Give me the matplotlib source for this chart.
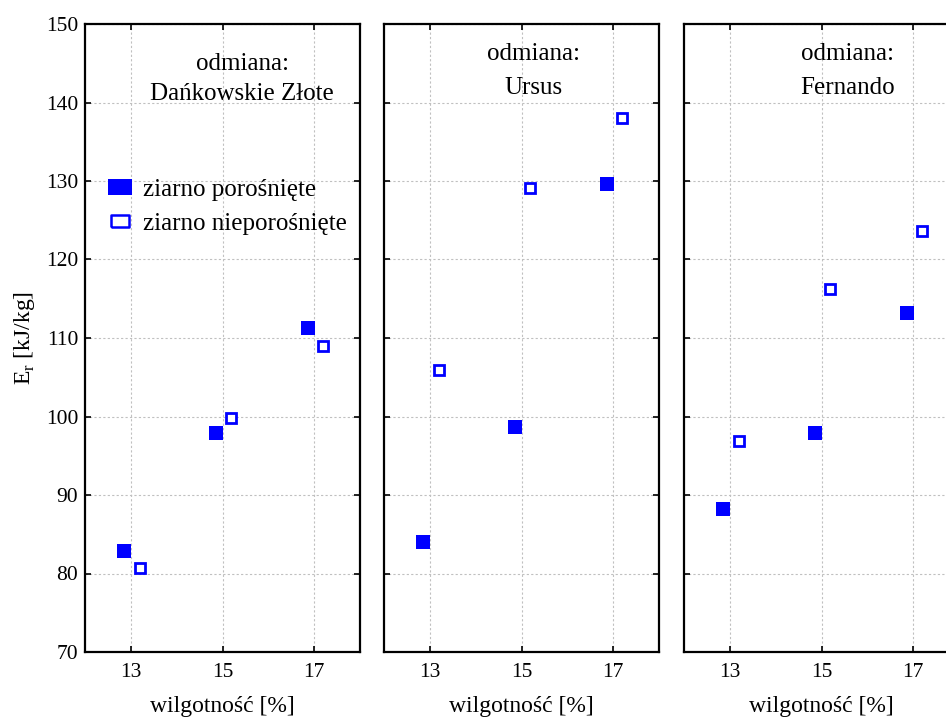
import matplotlib
matplotlib.use('Agg')
import numpy as np
import matplotlib.lines as mlines
from matplotlib import pyplot as plt

plt.rcParams['font.family'] = ['Liberation Serif', 'DejaVu Serif']
plt.rcParams['mathtext.fontset'] = 'custom'
plt.rcParams['mathtext.rm'] = 'Liberation Serif'

# data
varieties = ['Dańkowskie Złote', 'Ursus', 'Fernando']
moisture = [13, 15, 17]
sprouted = [
    [82.9, 97.9, 111.3],
    [84.0, 98.7, 129.6],
    [88.2, 97.9, 113.2],
]
not_sprouted = [
    [80.7, 99.8, 109.0],
    [105.9, 129.1, 138.0],
    [96.9, 116.2, 123.6],
]
y_ticks = [70, 80, 90, 100, 110, 120, 130, 140, 150]
legend_labels = ['ziarno porośnięte', 'ziarno nieporośnięte']

BLUE = '#0000ff'
FS_TICK = 15.5
FS_TXT = 18
FS_LAB = 17

fig = plt.figure(figsize=(9.46, 7.22), dpi=100)

# panel geometry in pixels (third panel runs past the right edge)
lefts = [85, 384, 684]
pw, top, bot = 275, 24, 652
W, H = 946.0, 722.0

# small horizontal shift between the two series, as in the original
off_f, off_o = -0.14, 0.19

# text placement per panel (axes fraction)
txt_pos = [
    (0.571, 0.936, 0.889),
    (0.542, 0.953, 0.898),
    (0.596, 0.953, 0.898),
]

axes = []
for i, name in enumerate(varieties):
    ax = fig.add_axes([lefts[i] / W, (H - bot) / H, pw / W, (bot - top) / H])
    axes.append(ax)
    x = np.array(moisture, dtype=float)
    ax.plot(x + off_f, sprouted[i], ls='none', marker='s', ms=10,
            mfc=BLUE, mec=BLUE, mew=0, zorder=3)
    ax.plot(x + off_o, not_sprouted[i], ls='none', marker='s', ms=7.5,
            mfc='white', mec=BLUE, mew=2, zorder=3)

    ax.set_xlim(12, 18)
    ax.set_ylim(70, 150)
    ax.set_xticks(moisture)
    ax.set_yticks(y_ticks)
    ax.grid(True, color='#c0c0c0', linestyle=(0, (2, 2)), linewidth=0.8)
    ax.set_axisbelow(True)
    ax.tick_params(direction='in', length=4, width=1.2, top=True, right=True,
                   labelsize=FS_TICK)
    ax.tick_params(axis='x', pad=8)
    ax.tick_params(axis='y', pad=5)
    if i > 0:
        ax.tick_params(labelleft=False)
    for sp in ax.spines.values():
        sp.set_linewidth(1.6)
    ax.set_xlabel('wilgotność [%]', fontsize=FS_LAB, labelpad=10)

    cx, y1, y2 = txt_pos[i]
    ax.text(cx, y1, 'odmiana:', transform=ax.transAxes, ha='center',
            va='center', fontsize=FS_TXT)
    ax.text(cx, y2, name, transform=ax.transAxes, ha='center',
            va='center', fontsize=FS_TXT)

axes[0].set_ylabel(r'E$_\mathrm{r}$ [kJ/kg]', fontsize=FS_LAB, labelpad=6)

# legend handles: wide filled block and smaller hollow box
rect_f = [(-1.5, -1), (1.5, -1), (1.5, 1), (-1.5, 1), (-1.5, -1)]
rect_o = [(-1.4, -1), (1.4, -1), (1.4, 1), (-1.4, 1), (-1.4, -1)]
h_f = mlines.Line2D([], [], ls='none', marker=rect_f, ms=17,
                    mfc=BLUE, mec=BLUE, mew=0, label=legend_labels[0])
h_o = mlines.Line2D([], [], ls='none', marker=rect_o, ms=13,
                    mfc='white', mec=BLUE, mew=1.8, label=legend_labels[1])
axes[0].legend(handles=[h_f, h_o], loc='center left',
               bbox_to_anchor=(0.085, 0.709), frameon=False, fontsize=FS_TXT,
               borderpad=0, borderaxespad=0, handlelength=0.9,
               handletextpad=0.5, labelspacing=0.45)

fig.savefig('out.png', dpi=100)
